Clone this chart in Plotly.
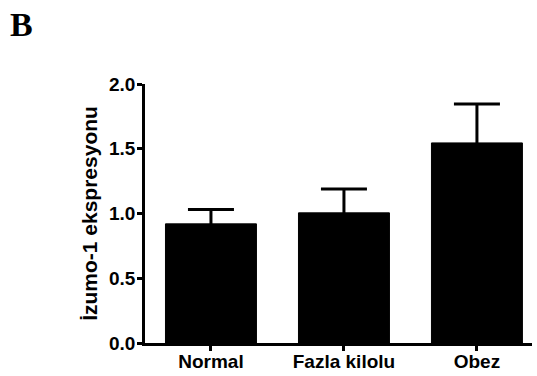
import plotly.graph_objects as go

categories = ["Normal", "Fazla kilolu", "Obez"]
means = [0.92, 1.005, 1.545]
errors = [0.11, 0.185, 0.30]
y_ticks = [0.0, 0.5, 1.0, 1.5, 2.0]
y_tick_labels = ["0.0", "0.5", "1.0", "1.5", "2.0"]

font_family = "Liberation Sans, Arial, Helvetica, sans-serif"

fig = go.Figure()
fig.add_trace(go.Bar(
    x=categories,
    y=means,
    width=0.684,
    marker=dict(color="black", line=dict(color="black", width=1)),
    error_y=dict(type="data", array=errors, symmetric=True,
                 color="black", thickness=3, width=23),
))

fig.update_layout(
    width=537, height=376,
    margin=dict(l=145, r=5, t=84, b=33, pad=0, autoexpand=False),
    paper_bgcolor="white", plot_bgcolor="white",
    showlegend=False,
    font=dict(family=font_family, size=19, color="black", weight="bold"),
    xaxis=dict(
        range=[-0.496, 2.414], showline=True, linecolor="black", linewidth=2.5,
        ticks="outside", ticklen=5, tickwidth=2.5, tickcolor="black",
        tickfont=dict(family=font_family, size=19, color="black", weight="bold"),
        showgrid=False, zeroline=False, fixedrange=True, automargin=False,
        ticklabelstandoff=-6,
    ),
    yaxis=dict(
        range=[0, 2.0], showline=True, linecolor="black", linewidth=2.5,
        tickvals=y_ticks, ticktext=y_tick_labels,
        ticks="outside", ticklen=5, tickwidth=2.5, tickcolor="black",
        tickfont=dict(family=font_family, size=19, color="black", weight="bold"),
        showgrid=False, zeroline=False, automargin=False, fixedrange=True,
        ticklabelstandoff=-2,
        title=dict(text="İzumo-1 ekspresyonu", standoff=6,
                   font=dict(family=font_family, size=21, color="black", weight="bold")),
    ),
)
fig.add_annotation(
    text="B", xref="paper", yref="paper",
    x=-137 / 387, y=1 + 80 / 259,
    xanchor="left", yanchor="top", showarrow=False,
    font=dict(family="Liberation Serif, Times New Roman, serif", size=34, color="black", weight="bold"),
)

fig.write_html(
    "out.html",
    config={"displayModeBar": False},
    post_script="document.body.style.margin='0';document.body.style.padding='0';",
)
